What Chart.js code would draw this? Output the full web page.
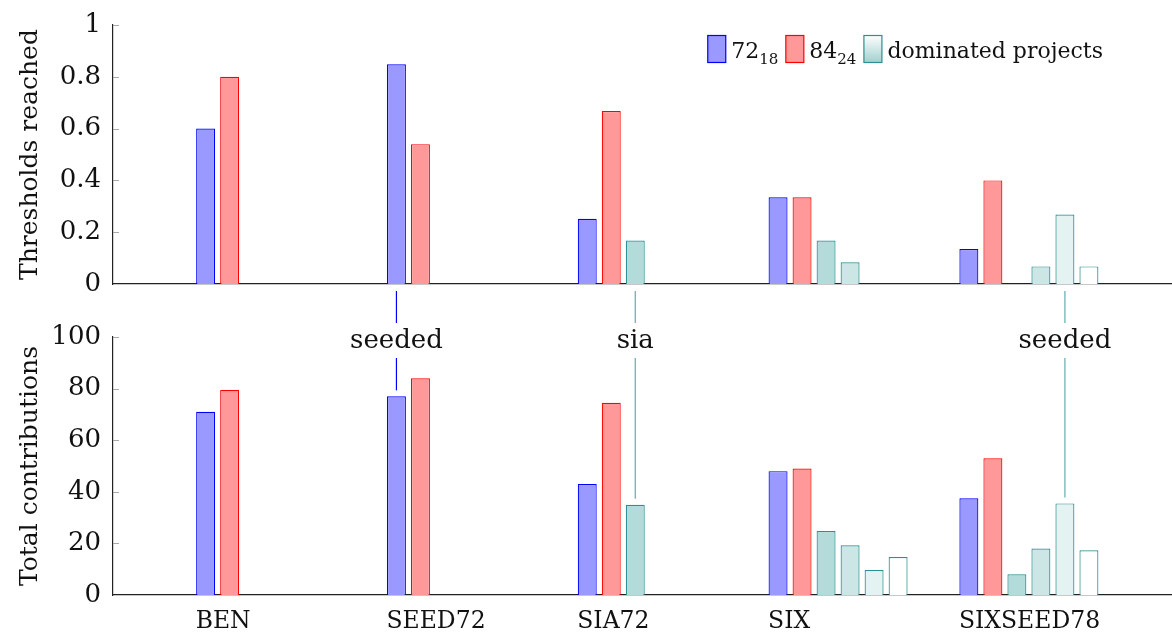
<!DOCTYPE html>
<html>
<head>
<meta charset="utf-8">
<script src="https://cdn.jsdelivr.net/npm/chart.js@4.4.0/dist/chart.umd.min.js"></script>
<style>
  body { margin: 0; background: #fff; }
  #wrap { position: relative; width: 1172px; height: 639px; }
  #topBox { position: absolute; left: 0; top: 0; width: 1172px; height: 323px; }
  #botBox { position: absolute; left: 0; top: 323px; width: 1172px; height: 316px; }
</style>
</head>
<body>
<div id="wrap">
  <div id="topBox"><canvas id="topChart"></canvas></div>
  <div id="botBox"><canvas id="botChart"></canvas></div>
</div>
<script>
const categories = ['BEN', 'SEED72', 'SIA72', 'SIX', 'SIXSEED78'];
const seriesNames = ['72_18', '84_24', 'dominated 1', 'dominated 2', 'dominated 3', 'dominated 4'];

// thresholds reached (top panel)
const thr72 = [0.6, 0.848, 0.252, 0.335, 0.135];
const thr84 = [0.8, 0.54, 0.668, 0.335, 0.4];
const thrDom1 = [0, 0, 0.168, 0.168, 0];
const thrDom2 = [0, 0, 0, 0.084, 0.068];
const thrDom3 = [0, 0, 0, 0, 0.268];
const thrDom4 = [0, 0, 0, 0, 0.068];

// total contributions (bottom panel)
const con72 = [71, 77, 43, 48, 37.5];
const con84 = [79.5, 84, 74.5, 49, 53];
const conDom1 = [0, 0, 35, 24.8, 8];
const conDom2 = [0, 0, 0, 19.3, 18];
const conDom3 = [0, 0, 0, 9.7, 35.5];
const conDom4 = [0, 0, 0, 14.7, 17.3];

const thrTicks = [0, 0.2, 0.4, 0.6, 0.8, 1];
const conTicks = [0, 20, 40, 60, 80, 100];

const legendItems = [
  { main: '72', sub: '18' },
  { main: '84', sub: '24' },
  { main: 'dominated projects', sub: '' }
];

// labels between the panels: which bar they point at
const notes = [
  { text: 'seeded', series: 0, cat: 1, color: '#0000ff' },
  { text: 'sia', series: 2, cat: 2, color: '#5fadad' },
  { text: 'seeded', series: 4, cat: 4, color: '#5fadad' }
];

const FONT = "'DejaVu Serif', serif";
const fills = ['#9999ff', '#ff9999', '#b3dbda', '#cce5e5', '#e5f2f2', '#ffffff'];
const edges = ['#0000ff', '#ff0000', '#2b9090', '#2b9090', '#2b9090', '#2b9090'];

function makeDatasets(arrays) {
  return arrays.map((arr, k) => ({
    label: seriesNames[k],
    data: arr.map((v, i) => ({ x: i, y: v })),
    backgroundColor: fills[k],
    borderColor: edges[k],
    borderWidth: 1.2,
    categoryPercentage: 0.755,
    barPercentage: 0.79
  }));
}

const innerTicks = {
  id: 'innerTicks',
  afterDraw(chart) {
    const y = chart.scales.y, ctx = chart.ctx, left = chart.chartArea.left;
    ctx.save();
    ctx.strokeStyle = '#a8a8a8';
    ctx.lineWidth = 1;
    y.ticks.forEach(t => {
      if (t.value === 0) return;
      const py = Math.round(y.getPixelForValue(t.value)) + 0.5;
      ctx.beginPath();
      ctx.moveTo(left, py);
      ctx.lineTo(left + 6, py);
      ctx.stroke();
    });
    ctx.restore();
  }
};

const legendPlugin = {
  id: 'customLegend',
  afterDraw(chart) {
    const ctx = chart.ctx;
    const boxW = 18, boxH = 27, top = chart.chartArea.top + 10;
    const mainFont = '22px ' + FONT, subFont = '15px ' + FONT;
    ctx.save();
    // widths first, legend is right aligned
    const widths = legendItems.map(it => {
      ctx.font = mainFont;
      let w = ctx.measureText(it.main).width;
      ctx.font = subFont;
      if (it.sub) w += ctx.measureText(it.sub).width;
      return boxW + 6 + w;
    });
    const gap = 7;
    const total = widths.reduce((a, b) => a + b, 0) + gap * (widths.length - 1);
    let x = chart.chartArea.right - 69 - total;
    legendItems.forEach((it, k) => {
      if (k === 2) {
        const g = ctx.createLinearGradient(0, top, 0, top + boxH);
        g.addColorStop(0, '#ffffff');
        g.addColorStop(1, '#a3d1d0');
        ctx.fillStyle = g;
      } else {
        ctx.fillStyle = fills[k];
      }
      ctx.fillRect(x + 0.5, top + 0.5, boxW, boxH);
      ctx.strokeStyle = edges[k];
      ctx.lineWidth = 1.2;
      ctx.strokeRect(x + 0.5, top + 0.5, boxW, boxH);
      let tx = x + boxW + 6;
      ctx.fillStyle = '#111';
      ctx.textBaseline = 'alphabetic';
      ctx.textAlign = 'left';
      ctx.font = mainFont;
      ctx.fillText(it.main, tx, top + 23);
      tx += ctx.measureText(it.main).width;
      if (it.sub) {
        ctx.font = subFont;
        ctx.fillText(it.sub, tx, top + 29);
      }
      x += widths[k] + gap;
    });
    ctx.restore();
  }
};

const topNotes = {
  id: 'topNotes',
  afterDraw(chart) {
    const ctx = chart.ctx;
    ctx.save();
    ctx.lineWidth = 1.2;
    notes.forEach(n => {
      const bar = chart.getDatasetMeta(n.series).data[n.cat];
      ctx.strokeStyle = n.color;
      ctx.beginPath();
      ctx.moveTo(bar.x, chart.chartArea.bottom + 7);
      ctx.lineTo(bar.x, chart.height);
      ctx.stroke();
    });
    ctx.restore();
  }
};

const botNotes = {
  id: 'botNotes',
  afterDraw(chart) {
    const ctx = chart.ctx;
    ctx.save();
    ctx.lineWidth = 1.2;
    ctx.font = '26px ' + FONT;
    ctx.textAlign = 'center';
    ctx.textBaseline = 'middle';
    notes.forEach(n => {
      const bar = chart.getDatasetMeta(n.series).data[n.cat];
      ctx.fillStyle = '#111';
      ctx.fillText(n.text, bar.x, 18);
      ctx.strokeStyle = n.color;
      ctx.beginPath();
      ctx.moveTo(bar.x, 35);
      ctx.lineTo(bar.x, bar.y - 6);
      ctx.stroke();
    });
    ctx.restore();
  }
};

function makeOptions(yMax, yTicks, yTitle, padTop, xHeight, showX) {
  return {
    animation: false,
    responsive: true,
    maintainAspectRatio: false,
    layout: { padding: { top: padTop, left: 0, right: 0, bottom: 0 } },
    plugins: { legend: { display: false }, tooltip: { enabled: false } },
    scales: {
      x: {
        type: 'linear',
        min: -0.8,
        max: 4.75,
        offset: false,
        grid: { display: false, drawTicks: false },
        border: { display: true, color: '#222', width: 1.2 },
        afterBuildTicks: s => { s.ticks = categories.map((c, i) => ({ value: i })); },
        afterFit: s => { s.height = xHeight; s.paddingLeft = 0; s.paddingRight = 0; },
        ticks: {
          display: showX,
          autoSkip: false,
          maxRotation: 0,
          align: 'start',
          labelOffset: -70,
          padding: 13,
          color: '#111',
          font: { family: FONT, size: 23.5 },
          callback: v => categories[v]
        }
      },
      y: {
        min: 0,
        max: yMax,
        grid: { display: false, drawTicks: false },
        border: { display: true, color: '#222', width: 1.2 },
        afterBuildTicks: s => { s.ticks = yTicks.map(v => ({ value: v })); },
        afterFit: s => { s.width = 113; s.paddingTop = 0; s.paddingBottom = 0; },
        ticks: {
          padding: 12,
          color: '#111',
          font: { family: FONT, size: 26, lineHeight: 1 },
          callback: v => String(v)
        },
        title: {
          display: true,
          text: yTitle,
          color: '#111',
          font: { family: FONT, size: 25, lineHeight: 1 },
          padding: { top: 18, bottom: 0 }
        }
      }
    }
  };
}

new Chart(document.getElementById('topChart'), {
  type: 'bar',
  data: { datasets: makeDatasets([thr72, thr84, thrDom1, thrDom2, thrDom3, thrDom4]) },
  options: makeOptions(1, thrTicks, 'Thresholds reached', 25, 39, false),
  plugins: [innerTicks, legendPlugin, topNotes]
});

new Chart(document.getElementById('botChart'), {
  type: 'bar',
  data: { datasets: makeDatasets([con72, con84, conDom1, conDom2, conDom3, conDom4]) },
  options: makeOptions(100, conTicks, 'Total contributions', 14, 44, true),
  plugins: [innerTicks, botNotes]
});
</script>
</body>
</html>
